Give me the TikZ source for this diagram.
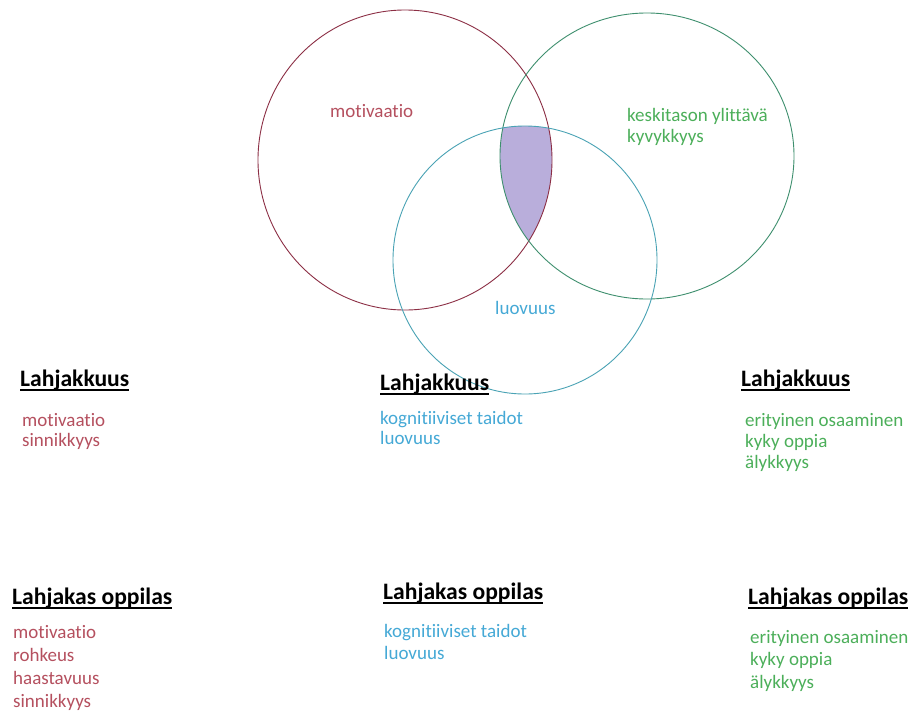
\documentclass[tikz,border=0pt]{standalone}
\usepackage{fontspec}
\setmainfont{Carlito}[Ligatures=NoCommon]
\definecolor{redtext}{HTML}{B5505F}
\definecolor{redcircle}{HTML}{8C2F45}
\definecolor{greentext}{HTML}{4CAF5A}
\definecolor{greencircle}{HTML}{3E8F6E}
\definecolor{bluetext}{HTML}{45A9D6}
\definecolor{bluecircle}{HTML}{4AA3B5}
\definecolor{overlap}{HTML}{B9AEDB}
\tikzset{
  txt/.style={anchor=base west, inner sep=0pt, font=\fontsize{19}{23}\selectfont},
  hdr/.style={anchor=base west, inner sep=0pt, font=\fontsize{23.6}{28}\selectfont\bfseries, text=black},
  uline/.style={line width=2pt, black},
  ring/.style={line width=0.9pt},
}
\begin{document}
\begin{tikzpicture}[x=1pt,y=-1pt]
\fill[white] (0,0) rectangle (910,718);
\useasboundingbox (0,0) rectangle (910,718);
% overlap
\begin{scope}
  \clip (405,160) ellipse [x radius=147, y radius=150];
  \clip (647,156) ellipse [x radius=147, y radius=143];
  \fill[overlap] (525,260) ellipse [x radius=132, y radius=134];
\end{scope}
\draw[ring, redcircle] (405,160) ellipse [x radius=147, y radius=150];
\draw[ring, greencircle] (647,156) ellipse [x radius=147, y radius=143];
\draw[ring, bluecircle] (525,260) ellipse [x radius=132, y radius=134];
% circle labels
\node[txt, text=redtext] (cmot) at (330,117) {motivaatio};
\node[txt, text=greentext] (ckes) at (627,121) {keskitason ylittävä};
\node[txt, text=greentext] (ckyv) at (627,142) {kyvykkyys};
\node[txt, text=bluetext] (cluo) at (495,314) {luovuus};
% row 1 headers
\node[hdr] (h1) at (20,386) {Lahjakkuus};
\node[hdr] (h2) at (380,390) {Lahjakkuus};
\node[hdr] (h3) at (741,386) {Lahjakkuus};
\foreach \n in {h1,h2,h3}{\draw[uline] ([yshift=-4pt]\n.base west) -- ([yshift=-4pt]\n.base east);}
% row 1 items
\node[txt, text=redtext] (a1) at (22,426) {motivaatio};
\node[txt, text=redtext] (a2) at (22,446) {sinnikkyys};
\node[txt, text=bluetext] (b1) at (380,424) {kognitiiviset taidot};
\node[txt, text=bluetext] (b2) at (380,444) {luovuus};
\node[txt, text=greentext] (c1) at (745,426) {erityinen osaaminen};
\node[txt, text=greentext] (c2) at (745,447) {kyky oppia};
\node[txt, text=greentext] (c3) at (745,468) {älykkyys};
% row 2 headers
\node[hdr] (g1) at (12,604) {Lahjakas oppilas};
\node[hdr] (g2) at (383,599) {Lahjakas oppilas};
\node[hdr] (g3) at (748,604) {Lahjakas oppilas};
\foreach \n in {g1,g2,g3}{\draw[uline] ([yshift=-4pt]\n.base west) -- ([yshift=-4pt]\n.base east);}
% row 2 items
\node[txt, text=redtext] (d1) at (13,638) {motivaatio};
\node[txt, text=redtext] (d2) at (13,661) {rohkeus};
\node[txt, text=redtext] (d3) at (13,684) {haastavuus};
\node[txt, text=redtext] (d4) at (13,707) {sinnikkyys};
\node[txt, text=bluetext] (e1) at (384,637) {kognitiiviset taidot};
\node[txt, text=bluetext] (e2) at (384,659) {luovuus};
\node[txt, text=greentext] (f1) at (750,643) {erityinen osaaminen};
\node[txt, text=greentext] (f2) at (750,665) {kyky oppia};
\node[txt, text=greentext] (f3) at (750,688) {älykkyys};
\end{tikzpicture}
\end{document}
